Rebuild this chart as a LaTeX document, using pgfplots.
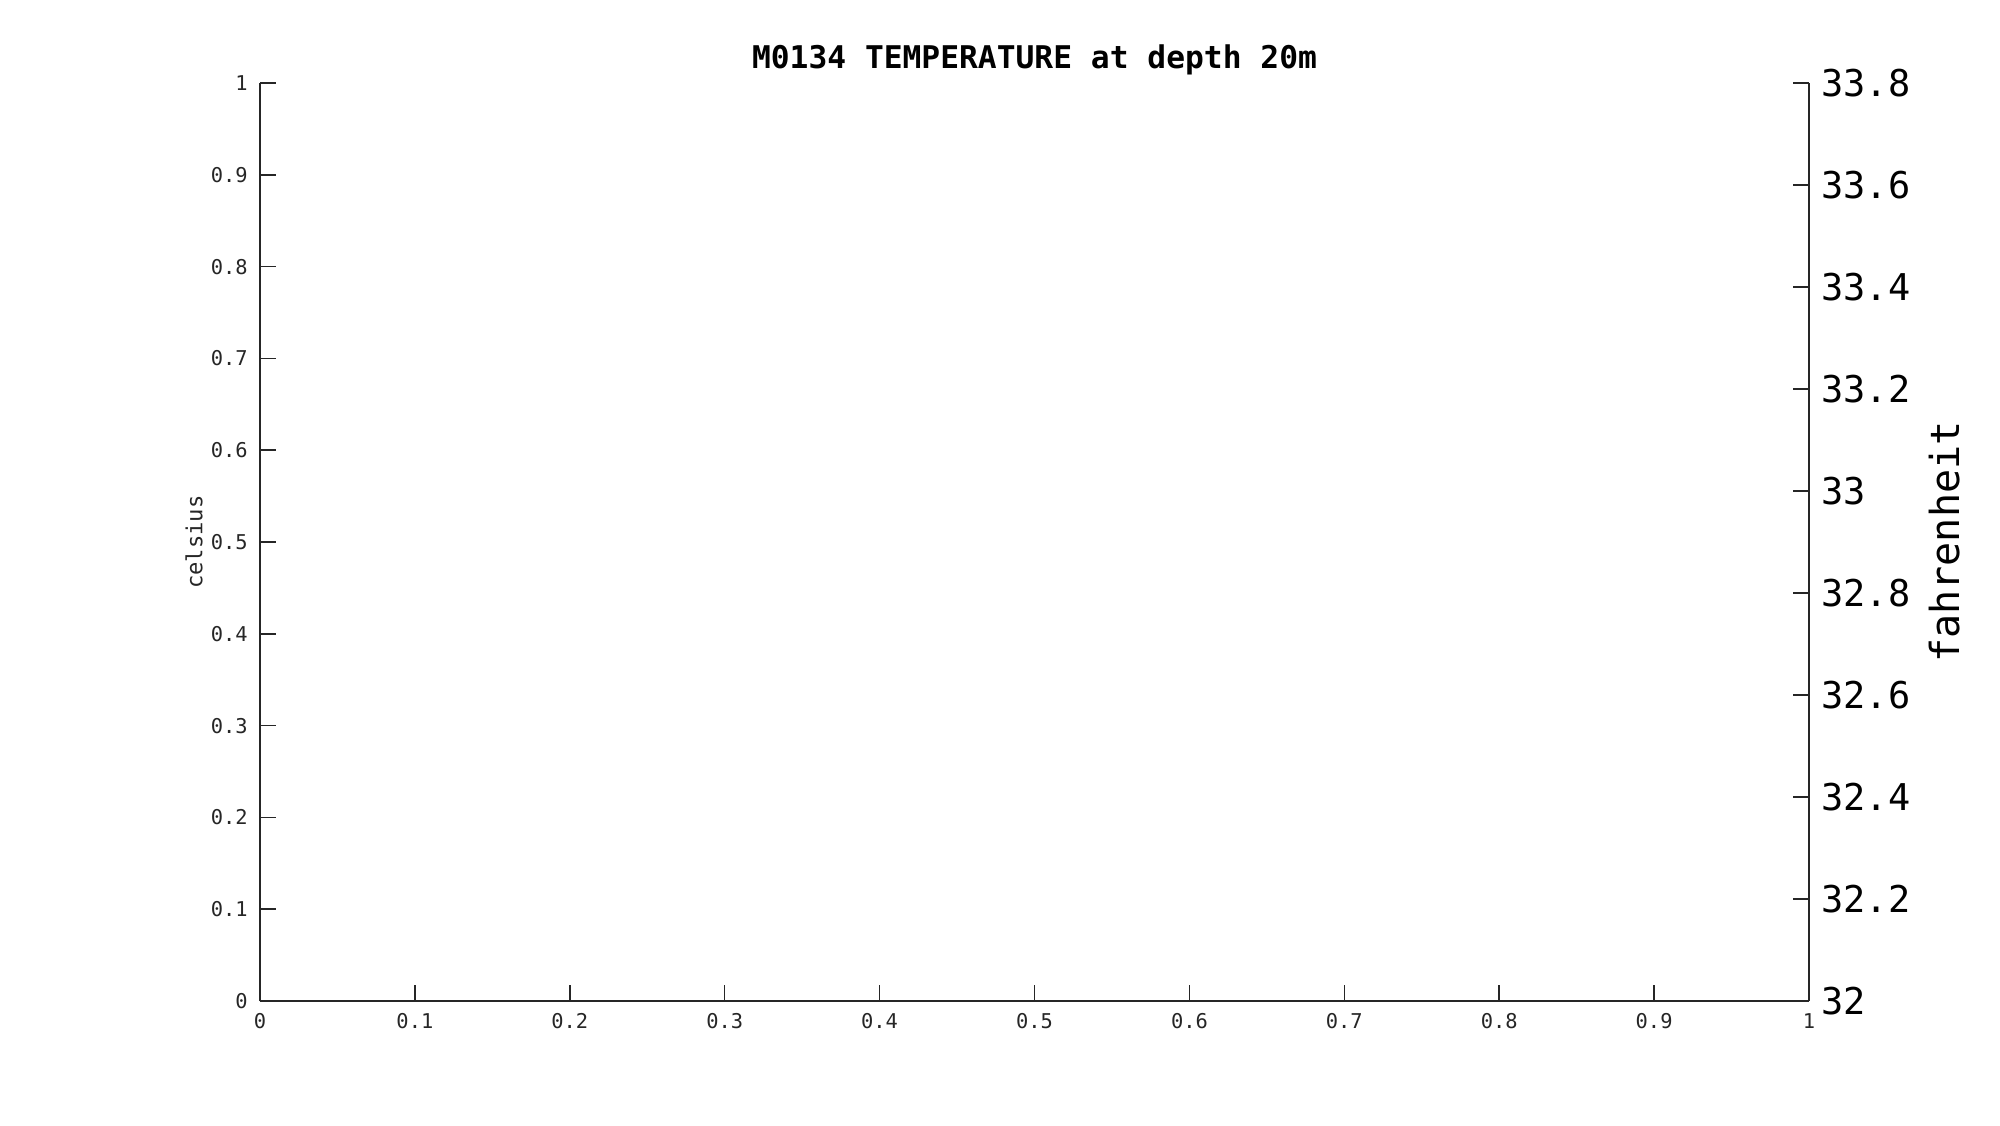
\documentclass[border=0pt]{standalone}
\usepackage{fontspec}
\setmainfont{DejaVu Sans Mono}
\usepackage{pgfplots}
\pgfplotsset{compat=1.18}
\begin{document}
\begin{tikzpicture}
\useasboundingbox (0,0) rectangle (20cm,11.25cm);
\begin{axis}[
  at={(2.6cm,1.24cm)}, anchor=south west,
  width=15.49cm, height=9.18cm, scale only axis,
  xmin=0, xmax=1, ymin=0, ymax=1,
  axis x line*=bottom, axis y line*=left,
  xtick={0,0.1,...,1}, ytick={0,0.1,...,1},
  tick align=inside, major tick length=0.16cm,
  /pgf/number format/assume math mode=true,
  ticklabel style={font=\fontsize{5.8}{7}\selectfont, text=black!85},
  axis line style={-, black!85, line width=0.45pt},
  tick style={black!85, line width=0.45pt},
  ylabel={celsius},
  ylabel style={at={(axis description cs:-0.0426,0.5)}, anchor=center, rotate=0, font=\fontsize{6.3}{7}\selectfont, text=black!85},
]
\addplot[draw=none] coordinates {(0,0)};
\end{axis}
\begin{axis}[
  at={(2.6cm,1.24cm)}, anchor=south west,
  width=15.49cm, height=9.18cm, scale only axis,
  xmin=0, xmax=1, ymin=32, ymax=33.8,
  axis x line=none, axis y line*=right,
  ytick={32,32.2,...,33.81},
  yticklabels={32,32.2,32.4,32.6,32.8,33,33.2,33.4,33.6,33.8},
  tick align=inside, major tick length=0.16cm,
  /pgf/number format/assume math mode=true,
  ticklabel style={font=\fontsize{10.5}{12}\selectfont, text=black},
  axis line style={-, black!85, line width=0.45pt},
  tick style={black!85, line width=0.45pt},
  ylabel={fahrenheit},
  ylabel style={at={(axis description cs:1.0878,0.5)}, anchor=center, rotate=0, font=\fontsize{11.4}{13}\selectfont},
]
\addplot[draw=none] coordinates {(0,32)};
\end{axis}
\node[anchor=base, inner sep=0pt, font=\fontsize{8.9}{10}\selectfont\bfseries] at (10.345cm,10.56cm) {M0134 TEMPERATURE at depth 20m};
\end{tikzpicture}
\end{document}
